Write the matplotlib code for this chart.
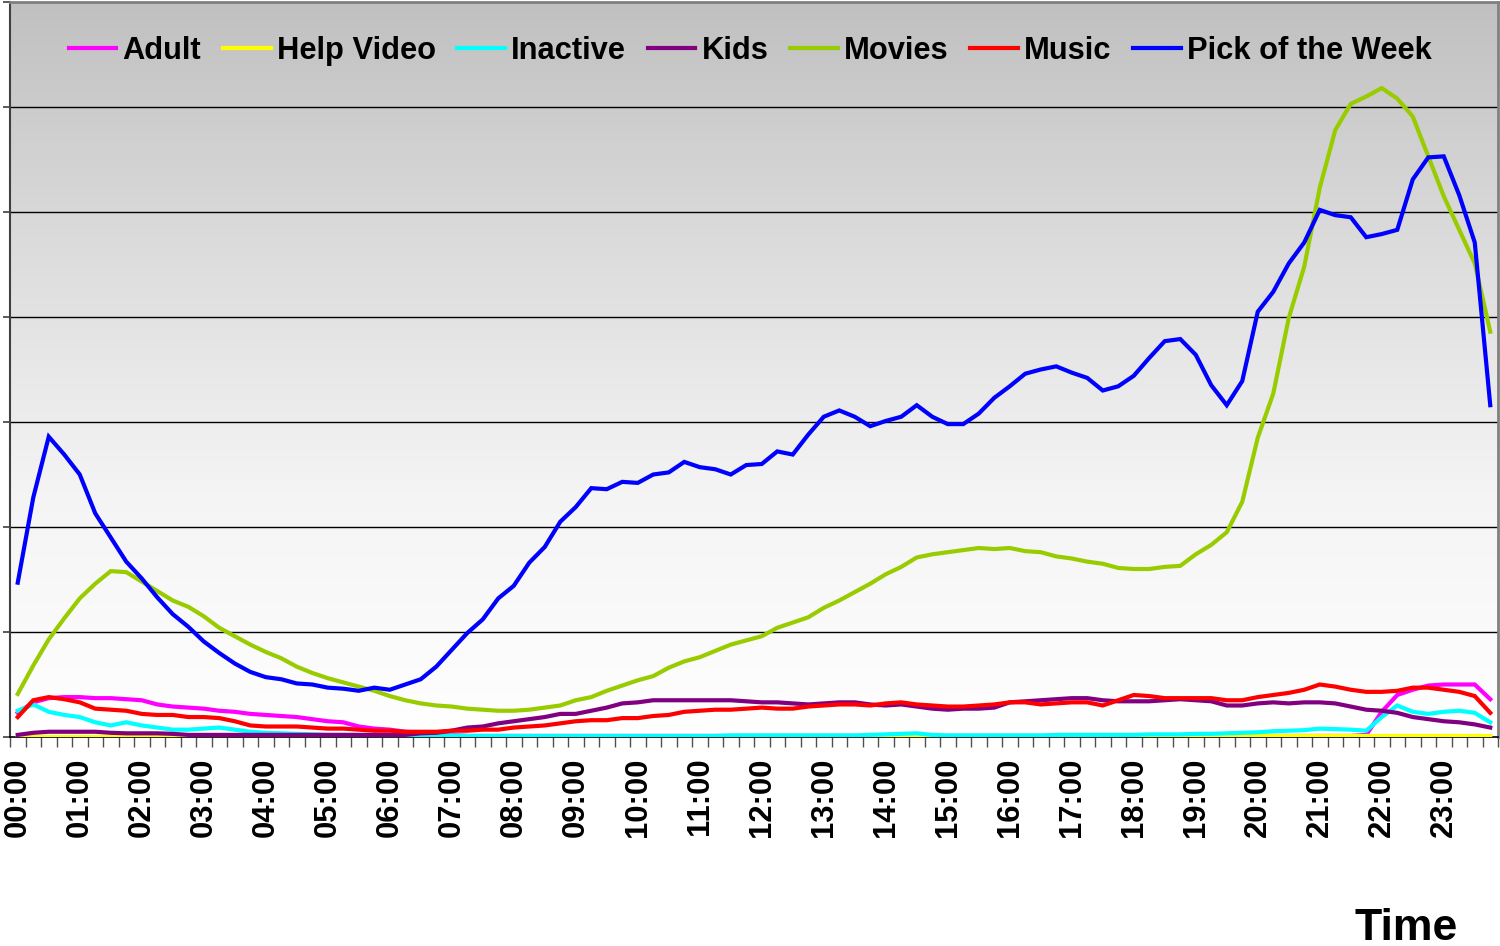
import numpy as np
import matplotlib
matplotlib.use("Agg")
import matplotlib.pyplot as plt
from matplotlib.colors import LinearSegmentedColormap

plt.rcParams["font.family"] = ["Liberation Sans", "DejaVu Sans"]

# ── Data: 96 quarter-hour samples, 00:00 .. 23:45 ─────────────────────────
hour_labels = ["00:00", "01:00", "02:00", "03:00", "04:00", "05:00",
               "06:00", "07:00", "08:00", "09:00", "10:00", "11:00",
               "12:00", "13:00", "14:00", "15:00", "16:00", "17:00",
               "18:00", "19:00", "20:00", "21:00", "22:00", "23:00"]

adult = [0.23, 0.33, 0.37, 0.38, 0.38, 0.37, 0.37, 0.36, 0.35, 0.31,
         0.29, 0.28, 0.27, 0.25, 0.24, 0.22, 0.21, 0.20, 0.19, 0.17,
         0.15, 0.14, 0.10, 0.08, 0.07, 0.05, 0.04, 0.03, 0.02, 0.01,
         0.01, 0.01, 0.01, 0.01, 0.01, 0.01, 0.01, 0.01, 0.01, 0.01,
         0.01, 0.01, 0.01, 0.01, 0.01, 0.01, 0.01, 0.01, 0.01, 0.01,
         0.01, 0.01, 0.01, 0.01, 0.01, 0.01, 0.01, 0.01, 0.01, 0.01,
         0.01, 0.01, 0.01, 0.01, 0.01, 0.01, 0.01, 0.01, 0.01, 0.01,
         0.01, 0.01, 0.01, 0.01, 0.01, 0.01, 0.01, 0.01, 0.01, 0.01,
         0.01, 0.01, 0.01, 0.01, 0.01, 0.01, 0.01, 0.02, 0.24, 0.40,
         0.45, 0.49, 0.50, 0.50, 0.50, 0.36]

help_video = [0.0] * 56 + [0.005, 0.01, 0.01, 0.005] + [0.0] * 16 + [0.01] * 20

inactive = [0.25, 0.31, 0.24, 0.21, 0.19, 0.14, 0.11, 0.14, 0.11, 0.09,
            0.07, 0.07, 0.08, 0.09, 0.07, 0.05, 0.04, 0.035, 0.03, 0.025,
            0.02, 0.02, 0.02, 0.02, 0.02, 0.02, 0.015, 0.015, 0.015, 0.01,
            0.01, 0.01, 0.01, 0.01, 0.01, 0.01, 0.01, 0.01, 0.01, 0.01,
            0.01, 0.01, 0.01, 0.01, 0.01, 0.01, 0.015, 0.015, 0.015, 0.015,
            0.015, 0.015, 0.015, 0.015, 0.015, 0.02, 0.025, 0.03, 0.035, 0.02,
            0.015, 0.015, 0.015, 0.015, 0.015, 0.015, 0.015, 0.02, 0.02, 0.02,
            0.02, 0.02, 0.02, 0.025, 0.025, 0.025, 0.03, 0.03, 0.035, 0.04,
            0.045, 0.055, 0.06, 0.065, 0.08, 0.075, 0.07, 0.06, 0.19, 0.30,
            0.24, 0.22, 0.24, 0.25, 0.23, 0.14]

kids = [0.02, 0.04, 0.05, 0.05, 0.05, 0.05, 0.04, 0.035, 0.035, 0.035,
        0.03, 0.02, 0.02, 0.02, 0.02, 0.02, 0.02, 0.02, 0.02, 0.02,
        0.02, 0.02, 0.02, 0.02, 0.02, 0.02, 0.035, 0.04, 0.06, 0.09,
        0.10, 0.13, 0.15, 0.17, 0.19, 0.22, 0.22, 0.25, 0.28, 0.32,
        0.33, 0.35, 0.35, 0.35, 0.35, 0.35, 0.35, 0.34, 0.33, 0.33,
        0.32, 0.31, 0.32, 0.33, 0.33, 0.31, 0.30, 0.31, 0.29, 0.27,
        0.26, 0.27, 0.27, 0.28, 0.33, 0.34, 0.35, 0.36, 0.37, 0.37,
        0.35, 0.34, 0.34, 0.34, 0.35, 0.36, 0.35, 0.34, 0.30, 0.30,
        0.32, 0.33, 0.32, 0.33, 0.33, 0.32, 0.29, 0.26, 0.25, 0.23,
        0.19, 0.17, 0.15, 0.14, 0.12, 0.09]

movies = [0.41, 0.68, 0.93, 1.13, 1.32, 1.46, 1.58, 1.57, 1.48, 1.39,
          1.30, 1.24, 1.15, 1.04, 0.96, 0.88, 0.81, 0.75, 0.67, 0.61,
          0.56, 0.52, 0.48, 0.44, 0.39, 0.35, 0.32, 0.30, 0.29, 0.27,
          0.26, 0.25, 0.25, 0.26, 0.28, 0.30, 0.35, 0.38, 0.44, 0.49,
          0.54, 0.58, 0.66, 0.72, 0.76, 0.82, 0.88, 0.92, 0.96, 1.04,
          1.09, 1.14, 1.23, 1.30, 1.38, 1.46, 1.55, 1.62, 1.71, 1.74,
          1.76, 1.78, 1.80, 1.79, 1.80, 1.77, 1.76, 1.72, 1.70, 1.67,
          1.65, 1.61, 1.60, 1.60, 1.62, 1.63, 1.74, 1.83, 1.95, 2.24,
          2.85, 3.27, 3.99, 4.48, 5.23, 5.78, 6.03, 6.10, 6.18, 6.08,
          5.91, 5.53, 5.15, 4.83, 4.51, 3.86]

music = [0.19, 0.35, 0.38, 0.36, 0.33, 0.27, 0.26, 0.25, 0.22, 0.21,
         0.21, 0.19, 0.19, 0.18, 0.15, 0.11, 0.10, 0.10, 0.10, 0.09,
         0.08, 0.08, 0.07, 0.06, 0.06, 0.05, 0.05, 0.05, 0.06, 0.06,
         0.07, 0.07, 0.09, 0.10, 0.11, 0.13, 0.15, 0.16, 0.16, 0.18,
         0.18, 0.20, 0.21, 0.24, 0.25, 0.26, 0.26, 0.27, 0.28, 0.27,
         0.27, 0.29, 0.30, 0.31, 0.31, 0.30, 0.32, 0.33, 0.31, 0.30,
         0.29, 0.29, 0.30, 0.31, 0.33, 0.33, 0.31, 0.32, 0.33, 0.33,
         0.30, 0.35, 0.40, 0.39, 0.37, 0.37, 0.37, 0.37, 0.35, 0.35,
         0.38, 0.40, 0.42, 0.45, 0.50, 0.48, 0.45, 0.43, 0.43, 0.44,
         0.47, 0.47, 0.45, 0.43, 0.39, 0.23]

pick_of_week = [1.47, 2.28, 2.86, 2.69, 2.50, 2.13, 1.90, 1.67, 1.51, 1.33,
                1.17, 1.05, 0.91, 0.80, 0.70, 0.62, 0.57, 0.55, 0.51, 0.50,
                0.47, 0.46, 0.44, 0.47, 0.45, 0.50, 0.55, 0.67, 0.83, 0.99,
                1.12, 1.32, 1.44, 1.66, 1.81, 2.05, 2.19, 2.37, 2.36, 2.43,
                2.42, 2.50, 2.52, 2.62, 2.57, 2.55, 2.50, 2.59, 2.60, 2.72,
                2.69, 2.88, 3.05, 3.11, 3.05, 2.96, 3.01, 3.05, 3.16, 3.05,
                2.98, 2.98, 3.08, 3.23, 3.34, 3.46, 3.50, 3.53, 3.47, 3.42,
                3.30, 3.34, 3.44, 3.61, 3.77, 3.79, 3.64, 3.35, 3.16, 3.39,
                4.05, 4.24, 4.51, 4.71, 5.02, 4.97, 4.95, 4.76, 4.79, 4.83,
                5.31, 5.52, 5.53, 5.16, 4.71, 3.16]

series_names = ["Adult", "Help Video", "Inactive", "Kids", "Movies",
                "Music", "Pick of the Week"]
series_colors = ["#FF00FF", "#FFFF00", "#00FFFF", "#800080", "#99CC00",
                 "#FF0000", "#0000FF"]
series_data = [adult, help_video, inactive, kids, movies, music, pick_of_week]

# ── Figure ────────────────────────────────────────────────────────────────
fig = plt.figure(figsize=(15, 9.46), dpi=100)
ax = fig.add_axes([10 / 1500, 1 - 737 / 946, 1488 / 1500, 735 / 946])

n = len(pick_of_week)
x = np.arange(n)
ax.set_xlim(-0.5, n - 0.5)
ax.set_ylim(0, 7)

# grey -> white gradient behind the plot
grad = np.linspace(0, 1, 256).reshape(-1, 1)
cmap = LinearSegmentedColormap.from_list("bg", ["#ffffff", "#f4f4f4", "#dcdcdc", "#c0c0c0"])
ax.imshow(grad, aspect="auto", cmap=cmap, extent=(-0.5, n - 0.5, 0, 7),
          origin="lower", zorder=0, interpolation="bicubic")

for yv in range(1, 7):
    ax.axhline(yv, color="black", lw=1.0, zorder=1)

for name, col, vals in zip(series_names, series_colors, series_data):
    ax.plot(x, vals, color=col, lw=3, label=name, zorder=3,
            solid_joinstyle="miter", clip_on=True)

# axes styling
for s in ("top", "right"):
    ax.spines[s].set_color("#808080")
    ax.spines[s].set_linewidth(2)
ax.spines["left"].set_color("#404040")
ax.spines["left"].set_linewidth(1.5)
ax.spines["bottom"].set_color("black")
ax.spines["bottom"].set_linewidth(1.2)

ax.set_yticks(range(0, 8))
ax.set_yticklabels([])
ax.tick_params(axis="y", length=5, width=1.2, color="#404040")

ax.set_xticks(x[::4])
ax.set_xticklabels(hour_labels, rotation=90, fontsize=22.3, fontweight="bold",
                   va="top")
ax.tick_params(axis="x", which="major", length=0, pad=15)
ax.set_xticks(np.arange(n + 1) - 0.5, minor=True)
ax.tick_params(axis="x", which="minor", length=7, width=1, color="#505050")

leg = ax.legend(loc="upper center", bbox_to_anchor=(0.4975, 1.0), ncol=7,
                frameon=False, prop={"weight": "bold", "size": 22.2},
                handlelength=1.55, handletextpad=0.2, columnspacing=0.7,
                borderaxespad=0.7)
for line in leg.get_lines():
    line.set_linewidth(3)

fig.text(1458 / 1500, 1 - 940 / 946, "Time", ha="right", va="baseline",
         fontsize=32, fontweight="bold")

fig.savefig("out.png", dpi=100, facecolor="white")
